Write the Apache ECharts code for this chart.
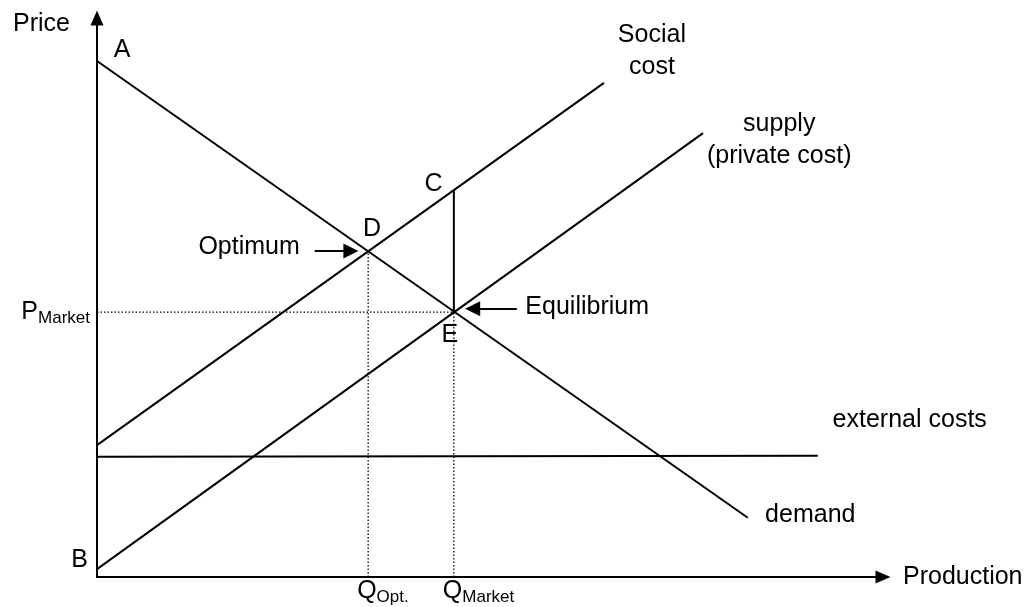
<!DOCTYPE html>
<html>
<head>
<meta charset="utf-8">
<script src="https://cdn.jsdelivr.net/npm/echarts@6/dist/echarts.min.js"></script>
<style>
  html, body { margin: 0; padding: 0; background: #fff; }
  #container { width: 1034px; height: 607px; }
</style>
</head>
<body>
<div id="container"></div>
<script>
// curves, in chart units (quantity 0-100, price 0-100)
var demandLine = [[0, 92.3], [82.8, 10.6]];
var supplyLine = [[0, 1.4], [77.1, 79.4]];
var socialCostLine = [[0, 23.6], [64.5, 88.4]];
var externalCostLine = [[0, 21.5], [91.7, 21.7]];

// key points
var qOpt = 34.5, qMarket = 45.4;
var pOpt = 58.3, pMarket = 47.4, pSocial = 69.2;

// tick labels
var qTicks = [qOpt, qMarket];
var qTickNames = ['Opt.', 'Market'];
var pTicks = [pMarket];
var pTickNames = ['Market'];

// pointer arrows (from, to)
var optimumArrow = [[27.7, pOpt], [32.3, pOpt]];
var equilibriumArrow = [[53.4, 48.0], [47.8, 48.0]];

// text labels: [name, x, y, align]
var pointLabels = [
    ['A', 3.2, 94.3, 'center'],
    ['B', -2.2, 3.0, 'center'],
    ['C', 42.8, 70.3, 'center'],
    ['D', 35.0, 62.3, 'center'],
    ['E', 44.9, 43.3, 'center'],
    ['Optimum', 25.8, 59.0, 'right'],
    ['Equilibrium', 54.5, 48.3, 'left'],
    ['Social\ncost', 70.6, 94.0, 'center'],
    ['supply\n(private cost)', 86.8, 78.2, 'center'],
    ['external costs', 103.4, 28.1, 'center'],
    ['demand', 85.0, 11.1, 'left']
];

var FONT = 'Liberation Sans, Arial, sans-serif';
var FS = 25;

var dom = document.getElementById('container');
var myChart = echarts.init(dom);

function seg(data, dotted) {
    return {
        type: 'line',
        data: data,
        symbol: 'none',
        silent: true,
        lineStyle: {
            color: '#000',
            width: dotted ? 1.3 : 2,
            type: dotted ? [1.5, 2] : 'solid'
        }
    };
}

function arrow(coords) {
    return {
        type: 'lines',
        coordinateSystem: 'cartesian2d',
        silent: true,
        symbol: ['none', 'triangle'],
        symbolSize: [13, 15],
        lineStyle: { color: '#000', width: 2, opacity: 1 },
        itemStyle: { color: '#000' },
        data: [{ coords: coords }]
    };
}

var subRich = {
    q: { fontSize: FS, lineHeight: 30, fontFamily: FONT, color: '#000' },
    s: { fontSize: 17, lineHeight: 17, verticalAlign: 'bottom', fontFamily: FONT, color: '#000' }
};

var axisLine = {
    show: true,
    symbol: ['none', 'triangle'],
    symbolSize: [13, 15],
    lineStyle: { color: '#000', width: 2 }
};

var option = {
    animation: false,
    backgroundColor: '#fff',
    grid: { left: 97, right: 151, top: 18, bottom: 30 },
    xAxis: {
        type: 'value',
        min: 0,
        max: 100,
        name: 'Production',
        nameLocation: 'end',
        nameGap: 20,
        nameTextStyle: { fontSize: FS, fontFamily: FONT, color: '#000' },
        axisLine: axisLine,
        axisTick: { show: false },
        splitLine: { show: false },
        axisLabel: { show: false }
    },
    yAxis: {
        type: 'value',
        min: 0,
        max: 100,
        name: 'Price',
        nameLocation: 'end',
        nameGap: -6,
        nameTextStyle: {
            fontSize: FS, fontFamily: FONT, color: '#000',
            align: 'right', verticalAlign: 'middle', padding: [0, 27, 0, 0]
        },
        axisLine: axisLine,
        axisTick: { show: false },
        splitLine: { show: false },
        axisLabel: {
            customValues: pTicks,
            margin: 7,
            formatter: function (v) {
                return '{q|P}{s|' + pTickNames[pTicks.indexOf(v)] + '}';
            },
            rich: subRich
        }
    },
    series: [
        seg(demandLine),
        seg(supplyLine),
        seg(socialCostLine),
        seg(externalCostLine),
        seg([[qMarket, pSocial], [qMarket, pMarket]]),
        seg([[qOpt, 0], [qOpt, pOpt]], true),
        seg([[qMarket, 0], [qMarket, pMarket]], true),
        seg([[0, pMarket], [qMarket, pMarket]], true),
        arrow(optimumArrow),
        arrow(equilibriumArrow),
        {
            // quantity tick labels under the x axis
            type: 'scatter',
            symbolSize: 0,
            clip: false,
            silent: true,
            itemStyle: { opacity: 1 },
            data: qTicks.map(function (q, i) {
                return { name: qTickNames[i], value: [q, 0] };
            }),
            label: {
                show: true,
                position: 'inside',
                align: 'left',
                verticalAlign: 'middle',
                offset: [-11, 14],
                formatter: '{q|Q}{s|{b}}',
                rich: subRich
            }
        },
        {
            type: 'scatter',
            symbolSize: 0,
            clip: false,
            silent: true,
            itemStyle: { opacity: 1 },
            data: pointLabels.map(function (p) {
                return {
                    name: p[0],
                    value: [p[1], p[2]],
                    label: { align: p[3] }
                };
            }),
            label: {
                show: true,
                position: 'inside',
                formatter: '{b}',
                color: '#000',
                fontSize: FS,
                lineHeight: 32,
                fontFamily: FONT,
                verticalAlign: 'middle'
            }
        }
    ]
};

myChart.setOption(option, true);
</script>
</body>
</html>
